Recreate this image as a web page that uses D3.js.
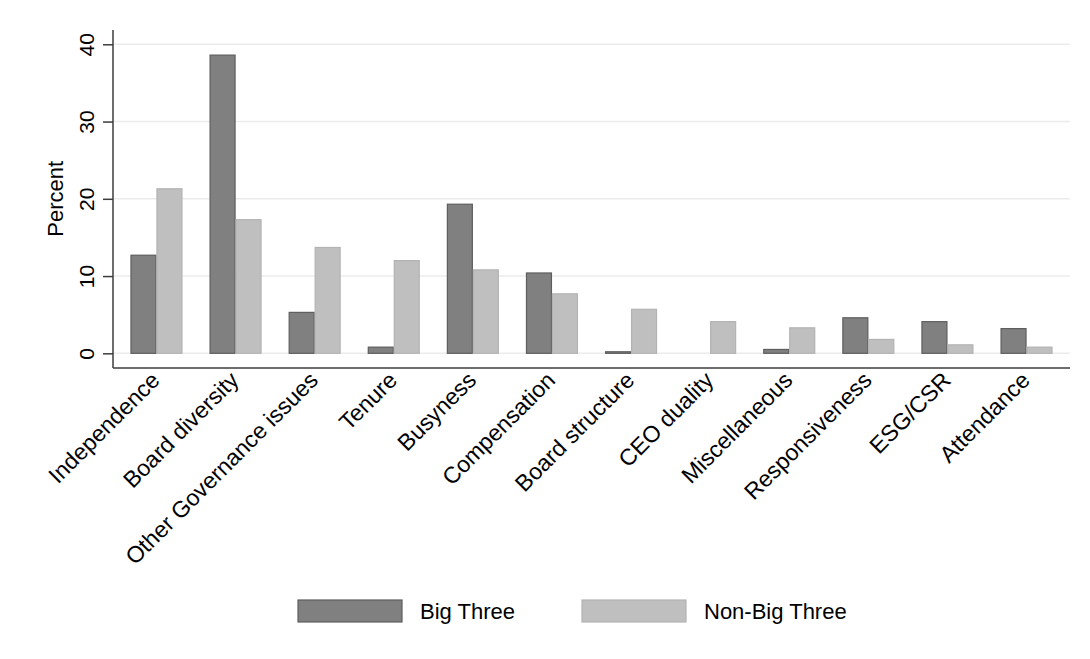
<!DOCTYPE html>
<html>
<head>
<meta charset="utf-8">
<script src="https://cdn.jsdelivr.net/npm/d3@7"></script>
<style>
  html, body { margin: 0; padding: 0; background: #fff; }
  svg { display: block; font-family: "Liberation Sans", Arial, sans-serif; }
</style>
</head>
<body>
<svg id="chart" width="1090" height="659"></svg>
<script>
// Reasons cited in votes against directors, by investor group (percent)
const categories = [
  "Independence", "Board diversity", "Other Governance issues", "Tenure",
  "Busyness", "Compensation", "Board structure", "CEO duality",
  "Miscellaneous", "Responsiveness", "ESG/CSR", "Attendance"
];
const bigThree    = [12.7, 38.6, 5.3, 0.8, 19.3, 10.4, 0.2, 0.0, 0.5, 4.6, 4.1, 3.2];
const nonBigThree = [21.3, 17.3, 13.7, 12.0, 10.8, 7.7, 5.7, 4.1, 3.3, 1.8, 1.1, 0.8];
const seriesNames = ["Big Three", "Non-Big Three"];
const yTicks = [0, 10, 20, 30, 40];

const svg = d3.select("#chart");
const W = 1090, H = 659;
svg.append("rect").attr("width", W).attr("height", H).attr("fill", "#fff");

const plot = { left: 113, right: 1070, top: 30, bottom: 368 };

const x = d3.scaleBand()
  .domain(categories)
  .range([plot.left, plot.right])
  .paddingInner(0.343)
  .paddingOuter(0.221);

const xSub = d3.scaleBand()
  .domain(seriesNames)
  .range([0, x.bandwidth()])
  .padding(0);

const y = d3.scaleLinear()
  .domain([-1.9, 41.85])
  .range([plot.bottom, plot.top]);

const fills   = { "Big Three": "#808080", "Non-Big Three": "#bfbfbf" };
const strokes = { "Big Three": "#5e5e5e", "Non-Big Three": "#b3b3b3" };

// horizontal gridlines
svg.append("g")
  .selectAll("line")
  .data(yTicks)
  .join("line")
  .attr("x1", plot.left)
  .attr("x2", plot.right)
  .attr("y1", d => y(d))
  .attr("y2", d => y(d))
  .attr("stroke", "#ececec")
  .attr("stroke-width", 1.5);

// bars
const rows = categories.map((c, i) => ({
  cat: c,
  values: [
    { series: seriesNames[0], v: bigThree[i] },
    { series: seriesNames[1], v: nonBigThree[i] }
  ]
}));

svg.append("g")
  .selectAll("g")
  .data(rows)
  .join("g")
  .attr("transform", d => `translate(${x(d.cat)},0)`)
  .selectAll("rect")
  .data(d => d.values.filter(e => e.v > 0))
  .join("rect")
  .attr("x", d => xSub(d.series) + 0.5)
  .attr("width", xSub.bandwidth() - 1)
  .attr("y", d => y(d.v))
  .attr("height", d => y(0) - y(d.v))
  .attr("fill", d => fills[d.series])
  .attr("stroke", d => strokes[d.series])
  .attr("stroke-width", 1.2);

// y axis
const yAxis = d3.axisLeft(y)
  .tickValues(yTicks)
  .tickSize(10)
  .tickPadding(0)
  .tickFormat(d3.format("d"));

const gy = svg.append("g")
  .attr("transform", `translate(${plot.left},0)`)
  .call(yAxis);
gy.select(".domain").remove();
gy.selectAll(".tick line").attr("stroke", "#3c3c3c").attr("stroke-width", 1.5);
gy.selectAll(".tick text")
  .attr("x", null).attr("dy", null)
  .attr("transform", "translate(-19,0) rotate(-90)")
  .attr("text-anchor", "middle")
  .attr("fill", "#000")
  .style("font-size", "21px");

// axis lines
svg.append("line")
  .attr("x1", plot.left).attr("x2", plot.left)
  .attr("y1", plot.top).attr("y2", plot.bottom)
  .attr("stroke", "#3c3c3c").attr("stroke-width", 1.5);
svg.append("line")
  .attr("x1", plot.left).attr("x2", plot.right)
  .attr("y1", plot.bottom).attr("y2", plot.bottom)
  .attr("stroke", "#3c3c3c").attr("stroke-width", 1.5);

// y axis title
svg.append("text")
  .attr("transform", `translate(62.5,${y(20)}) rotate(-90)`)
  .attr("text-anchor", "middle")
  .style("font-size", "22px")
  .attr("fill", "#000")
  .text("Percent");

// category labels, angled 45°
const xAxis = d3.axisBottom(x).tickSize(0).tickPadding(0);
const gx = svg.append("g")
  .attr("transform", `translate(0,${plot.bottom})`)
  .call(xAxis);
gx.select(".domain").remove();
gx.selectAll(".tick text")
  .attr("y", null).attr("dy", null)
  .attr("transform", "translate(-1,8) rotate(-45)")
  .attr("dy", "0.35em")
  .attr("text-anchor", "end")
  .attr("fill", "#000")
  .style("font-size", "23px");

// legend
const legendItems = [
  { name: seriesNames[0], x: 298 },
  { name: seriesNames[1], x: 582 }
];
const lg = svg.append("g")
  .selectAll("g")
  .data(legendItems)
  .join("g")
  .attr("transform", d => `translate(${d.x},600)`);
lg.append("rect")
  .attr("width", 104).attr("height", 22)
  .attr("fill", d => fills[d.name])
  .attr("stroke", d => strokes[d.name])
  .attr("stroke-width", 1.2);
lg.append("text")
  .attr("x", 122).attr("y", 18.5)
  .style("font-size", "22px")
  .attr("fill", "#000")
  .text(d => d.name);
</script>
</body>
</html>
